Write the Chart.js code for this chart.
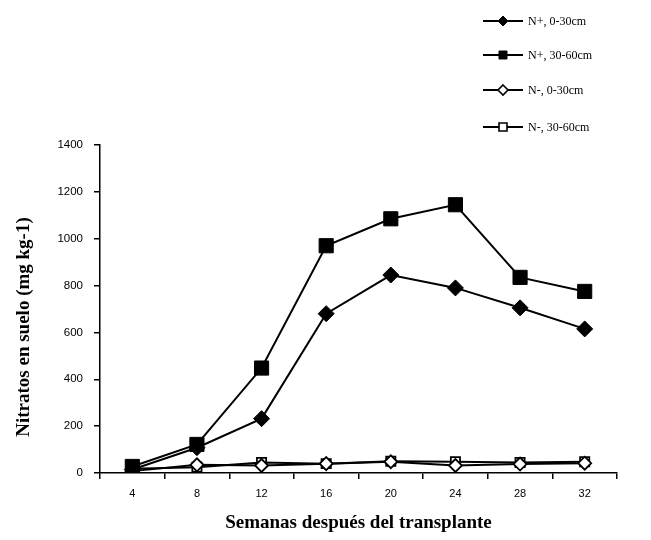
<!DOCTYPE html>
<html>
<head>
<meta charset="utf-8">
<script src="https://cdn.jsdelivr.net/npm/chart.js@4"></script>
<style>
  html, body { margin: 0; padding: 0; background: #fff; }
  #wrap { width: 651px; height: 540px; position: relative; }
</style>
</head>
<body>
<div id="wrap"><canvas id="c" width="651" height="540"></canvas></div>
<script>
const weeks = ['4', '8', '12', '16', '20', '24', '28', '32'];
const nPlus0_30 = [15, 108, 232, 680, 845, 790, 705, 615];
const nPlus30_60 = [28, 122, 448, 970, 1085, 1145, 835, 775];
const nMinus0_30 = [8, 35, 32, 40, 48, 32, 38, 42];
const nMinus30_60 = [18, 25, 45, 40, 50, 48, 45, 48];
const seriesLabels = ['N+, 0-30cm', 'N+, 30-60cm', 'N-, 0-30cm', 'N-, 30-60cm'];
const yTicks = [0, 200, 400, 600, 800, 1000, 1200, 1400];
const yTitle = 'Nitratos en suelo (mg kg-1)';

const PAD_LEFT = 8, PAD_TOP = 145, PAD_RIGHT = 34, PAD_BOTTOM = 6;
const PLOT_LEFT = 100, PLOT_BOTTOM = 473;

function ds(label, data, style, radius, fill) {
  return {
    label, data,
    borderColor: '#000', borderWidth: 2,
    pointStyle: style, pointRadius: radius, pointHoverRadius: radius,
    pointBackgroundColor: fill, pointBorderColor: '#000', pointBorderWidth: fill === '#fff' ? 1.8 : 1,
    tension: 0, fill: false
  };
}

const legendPlugin = {
  id: 'sideLegend',
  afterDraw(chart) {
    const ctx = chart.ctx;
    const ys = [21, 55, 90, 127];
    const x0 = 483, x1 = 523;
    ctx.save();
    chart.data.datasets.forEach((d, i) => {
      const y = ys[i];
      ctx.strokeStyle = '#000'; ctx.lineWidth = 2;
      ctx.beginPath(); ctx.moveTo(x0, y); ctx.lineTo(x1, y); ctx.stroke();
      const cx = (x0 + x1) / 2;
      ctx.fillStyle = d.pointBackgroundColor;
      ctx.lineWidth = d.pointBackgroundColor === '#fff' ? 1.6 : 1;
      ctx.beginPath();
      if (d.pointStyle === 'rectRot') {
        const r = 5;
        ctx.moveTo(cx, y - r); ctx.lineTo(cx + r, y); ctx.lineTo(cx, y + r); ctx.lineTo(cx - r, y); ctx.closePath();
      } else {
        const s = 4;
        ctx.rect(cx - s, y - s, 2 * s, 2 * s);
      }
      ctx.fill(); ctx.stroke();
      ctx.fillStyle = '#000';
      ctx.font = '12px "Liberation Serif", "Times New Roman", serif';
      ctx.textBaseline = 'middle'; ctx.textAlign = 'left';
      ctx.fillText(d.label, x1 + 5, y + 1);
    });
    // y-axis title
    ctx.save();
    ctx.translate(24, 327);
    ctx.rotate(-Math.PI / 2);
    ctx.font = 'bold 19px "Liberation Serif", "Times New Roman", serif';
    ctx.textAlign = 'center'; ctx.textBaseline = 'middle';
    ctx.fillStyle = '#000';
    ctx.fillText(yTitle, 0, 0);
    ctx.restore();
    ctx.restore();
  }
};

new Chart(document.getElementById('c'), {
  type: 'line',
  data: {
    labels: weeks,
    datasets: [
      ds(seriesLabels[0], nPlus0_30, 'rectRot', 8, '#000'),
      ds(seriesLabels[1], nPlus30_60, 'rect', 10, '#000'),
      ds(seriesLabels[2], nMinus0_30, 'rectRot', 6.5, '#fff'),
      ds(seriesLabels[3], nMinus30_60, 'rect', 6.5, '#fff')
    ]
  },
  options: {
    responsive: false,
    animation: false,
    devicePixelRatio: 1,
    layout: { padding: { left: PAD_LEFT, top: PAD_TOP, right: PAD_RIGHT, bottom: PAD_BOTTOM } },
    plugins: { legend: { display: false }, tooltip: { enabled: false }, title: { display: false } },
    scales: {
      x: {
        type: 'category',
        offset: true,
        grid: { display: true, drawOnChartArea: false, drawTicks: true, tickLength: 6, offset: true, color: '#000', lineWidth: 1.5 },
        border: { display: true, color: '#000', width: 1.5 },
        ticks: { color: '#000', font: { family: '"Liberation Sans", Arial, sans-serif', size: 11 }, padding: 8, maxRotation: 0 },
        title: { display: true, text: 'Semanas después del transplante', color: '#000',
                 font: { family: '"Liberation Serif", "Times New Roman", serif', size: 19, weight: 'bold' }, padding: { top: 4, bottom: 0 } },
        afterFit(scale) { scale.height = 540 - PLOT_BOTTOM - PAD_BOTTOM; }
      },
      y: {
        min: 0, max: 1400,
        afterBuildTicks(scale) { scale.ticks = yTicks.map(v => ({ value: v })); },
        grid: { display: true, drawOnChartArea: false, drawTicks: true, tickLength: 6, color: '#000', lineWidth: 1.5 },
        border: { display: true, color: '#000', width: 1.5 },
        ticks: { color: '#000', font: { family: '"Liberation Sans", Arial, sans-serif', size: 11.5 }, padding: 11,
                 callback: (v) => String(v) },
        title: { display: false },
        afterFit(scale) { scale.width = PLOT_LEFT - PAD_LEFT; }
      }
    }
  },
  plugins: [legendPlugin]
});
</script>
</body>
</html>
